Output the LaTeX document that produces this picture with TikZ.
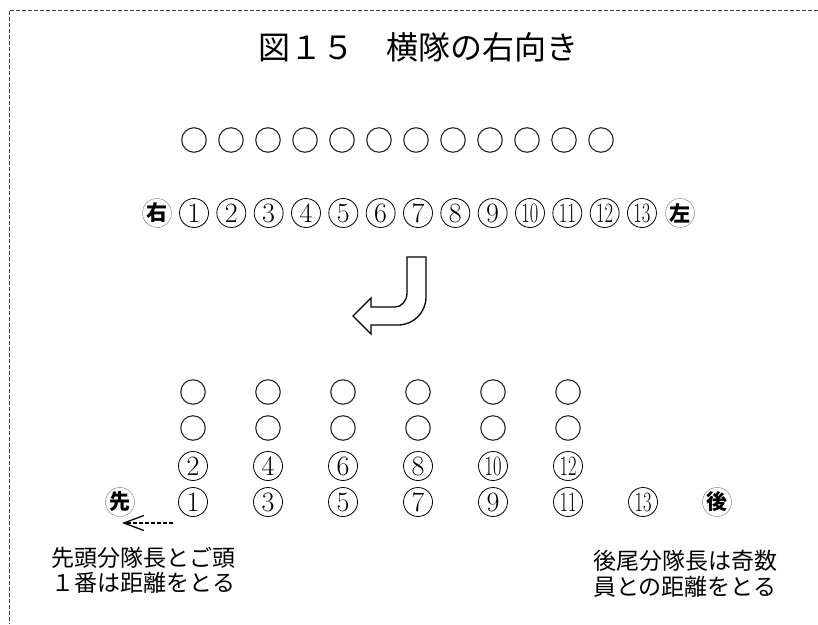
\documentclass[tikz,border=0pt]{standalone}
\usepackage{fontspec}
\usepackage{graphicx}
\newfontfamily\cjk{Noto Sans CJK JP}
\usetikzlibrary{arrows.meta}
\newcommand\cnum[1]{\ifnum#1>9 \scalebox{0.66}[1]{#1}\else #1\fi}
\begin{document}
\begin{tikzpicture}[x=1pt,y=-1pt,
  dot/.style={circle,draw=black!85,line width=1.1pt,minimum size=24.5pt,inner sep=0pt},
  num/.style={circle,draw=black,line width=0.8pt,minimum size=29pt,inner sep=0pt,font=\fontsize{28}{28}\selectfont},
  kanjic/.style={circle,draw=black!45,line width=0.5pt,minimum size=29pt,inner sep=0pt,font=\cjk\bfseries\fontsize{21}{21}\selectfont},
  border/.style={draw=black!75,line width=1pt,dash pattern=on 4pt off 2pt},
  jtext/.style={align=center,font=\cjk\fontsize{23}{25.5}\selectfont},
  uturn/.style={draw=black,fill=white,line width=1.3pt,line join=miter}
]
\useasboundingbox (0,0) rectangle (818,624);
% border
\draw[border] (818,10) -- (9,10) -- (9,624);
% title
\node (title) at (418,47) {\cjk\fontsize{32}{32}\selectfont 図１５　横隊の右向き};
% row 1
\foreach \i in {1,...,12} \node[dot] (t\i) at ({194+37*(\i-1)},140) {};
% row 2
\node[kanjic] (r) at (157,213) {右};
\foreach \i in {1,...,13} \node[num] (n\i) at ({194+37.33*(\i-1)},213) {\cnum{\i}};
\node[kanjic] (l) at (680,213) {左};
% turn arrow
\draw[uturn] (407,257) -- (426,257) -- (426,297)
  .. controls (426,312.5) and (413.5,325) .. (398,325) -- (371,325) -- (371,334)
  -- (353,316) -- (371,298) -- (371,307) -- (395,307)
  .. controls (401.6,307) and (407,300.7) .. (407,293) -- cycle;
% bottom block
\foreach \j in {1,...,6} {
  \node[dot] (a\j) at ({193+75*(\j-1)},392) {};
  \node[dot] (b\j) at ({193+75*(\j-1)},428) {};
  \pgfmathtruncatemacro\ev{2*\j}
  \pgfmathtruncatemacro\od{2*\j-1}
  \node[num] (c\j) at ({193+75*(\j-1)},466) {\cnum{\ev}};
  \node[num] (d\j) at ({193+75*(\j-1)},502) {\cnum{\od}};
}
\node[num] (d7) at (643,502) {\cnum{13}};
\node[kanjic] (sen) at (120,502) {先};
\node[kanjic] (go) at (717,502) {後};
% dashed arrow
\coordinate (ds) at (173,523);
\coordinate (de) at (122,523);
\draw[line width=1.3pt,dash pattern=on 4pt off 2pt,-{Straight Barb[length=20pt,width=15pt,line width=1.3pt]}] (ds) -- (de);
% texts
\node[jtext] (ltxt) at (143,570) {先頭分隊長とご頭\\１番は距離をとる};
\node[jtext] (rtxt) at (685,574) {後尾分隊長は奇数\\員との距離をとる};
\end{tikzpicture}
\end{document}
